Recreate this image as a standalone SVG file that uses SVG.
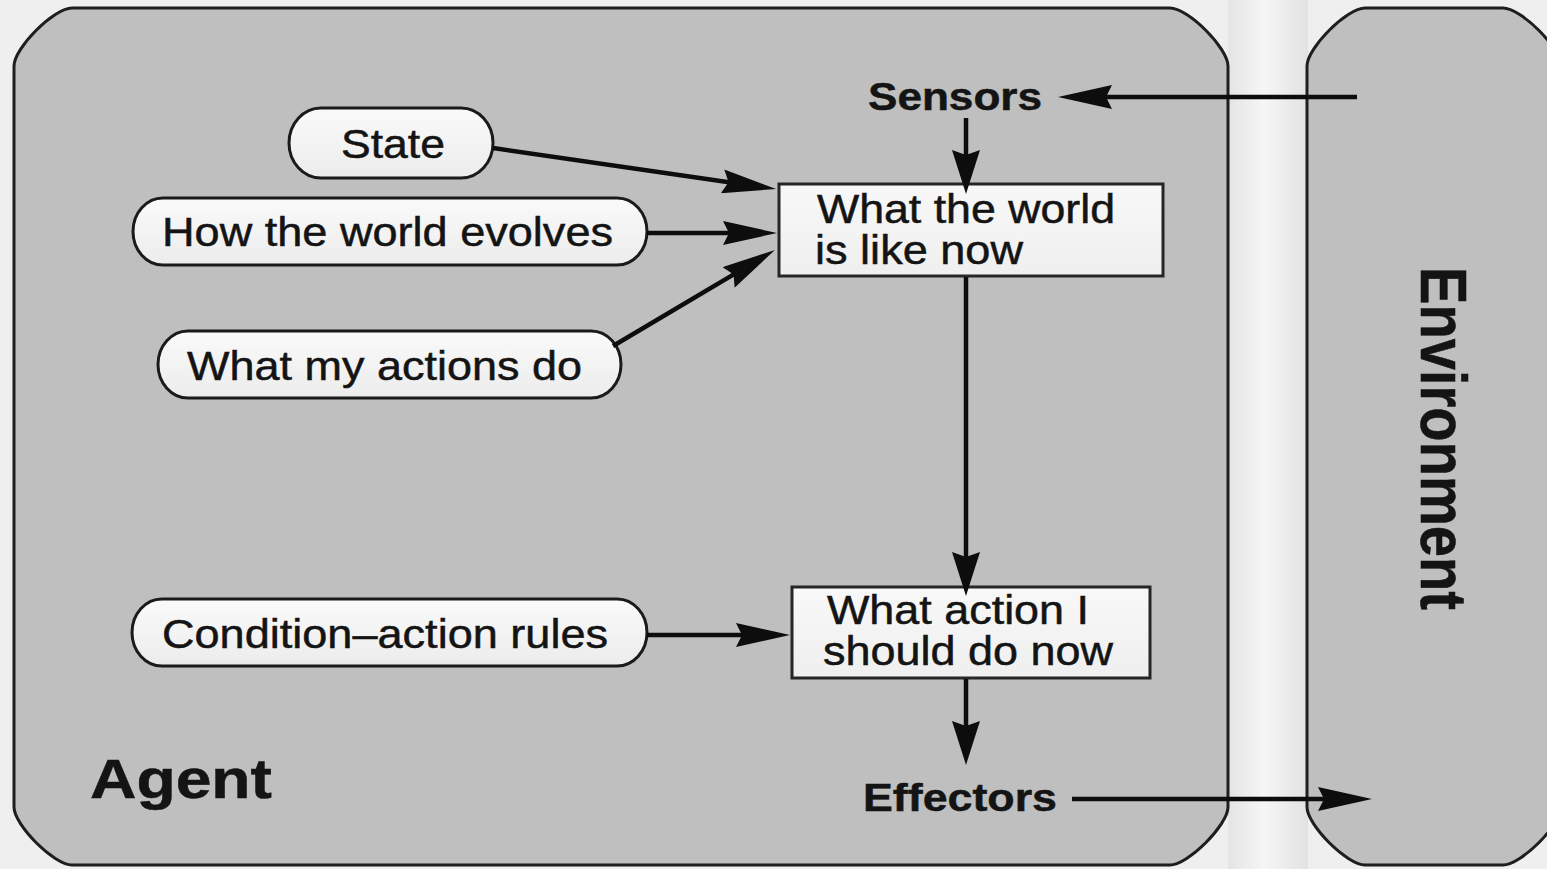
<svg xmlns="http://www.w3.org/2000/svg" width="1547" height="869" viewBox="0 0 1547 869">
  <style>
    .panel { fill: #bfbfbf; stroke: #1e1e1e; stroke-width: 3; }
    .pill { fill: url(#pillFill); stroke: #1a1a1a; stroke-width: 3; }
    .box { fill: url(#boxFill); stroke: #262626; stroke-width: 3; }
    .lbl { font-family: "Liberation Sans", Arial, sans-serif; fill: #141414; stroke: #141414; stroke-width: 0.5; }
    .reg { font-size: 40px; }
    .bold { font-weight: bold; }
    .wire { fill: none; stroke: #0d0d0d; stroke-width: 4.5; }
  </style>
  <defs>
    <linearGradient id="gapFill" x1="0" y1="0" x2="1" y2="0">
      <stop offset="0" stop-color="#e4e4e4"/>
      <stop offset="0.45" stop-color="#f6f6f6"/>
      <stop offset="1" stop-color="#e2e2e2"/>
    </linearGradient>
    <linearGradient id="pillFill" x1="0" y1="0" x2="0" y2="1">
      <stop offset="0" stop-color="#fafafa"/>
      <stop offset="1" stop-color="#ececec"/>
    </linearGradient>
    <linearGradient id="boxFill" x1="0" y1="0" x2="0" y2="1">
      <stop offset="0" stop-color="#f8f8f8"/>
      <stop offset="1" stop-color="#efefef"/>
    </linearGradient>
    <!-- arrowheads: long one for horizontal/diagonal runs, shorter wider one for vertical runs -->
    <marker id="arrowH" viewBox="0 0 54 24" refX="10" refY="12" markerWidth="54" markerHeight="24" markerUnits="userSpaceOnUse" orient="auto">
      <path d="M0,0 L54,12 L0,24 L6,12 Z" fill="#0d0d0d"/>
    </marker>
    <marker id="arrowV" viewBox="0 0 44 28" refX="10" refY="14" markerWidth="44" markerHeight="28" markerUnits="userSpaceOnUse" orient="auto">
      <path d="M0,0 L44,14 L0,28 L5,14 Z" fill="#0d0d0d"/>
    </marker>
  </defs>

  <!-- page background and the light strip between the two panels -->
  <rect x="0" y="0" width="1547" height="869" fill="#efefef"/>
  <rect x="1228" y="0" width="80" height="869" fill="url(#gapFill)"/>

  <!-- agent panel -->
  <g id="agent">
    <path class="panel" d="M14,66 C14,48 54,8 72,8 L1170,8 C1188,8 1228,48 1228,66 L1228,807 C1228,825 1188,865 1170,865 L72,865 C54,865 14,825 14,807 Z"/>
    <text class="lbl bold" x="90" y="798" font-size="56" textLength="182" lengthAdjust="spacingAndGlyphs">Agent</text>
  </g>

  <!-- environment panel -->
  <g id="environment">
    <path class="panel" d="M1307,66 C1307,48 1347,8 1365,8 L1503,8 C1521,8 1561,48 1561,66 L1561,807 C1561,825 1521,865 1503,865 L1365,865 C1347,865 1307,825 1307,807 Z"/>
    <text class="lbl bold" transform="translate(1421,267) rotate(90) scale(1,1.13)" x="0" y="0" font-size="58" textLength="343" lengthAdjust="spacingAndGlyphs">Environment</text>
  </g>

  <g id="sensors">
    <text class="lbl bold" x="868" y="110" font-size="39" textLength="174" lengthAdjust="spacingAndGlyphs">Sensors</text>
  </g>

  <g id="effectors">
    <text class="lbl bold" x="863" y="811" font-size="39" textLength="194" lengthAdjust="spacingAndGlyphs">Effectors</text>
  </g>

  <g id="state">
    <rect class="pill" x="289" y="108" width="204" height="70" rx="32" ry="35"/>
    <text class="lbl" x="341" y="158" font-size="41" textLength="104" lengthAdjust="spacingAndGlyphs">State</text>
  </g>

  <g id="world-evolves">
    <rect class="pill" x="133" y="198" width="514" height="67" rx="30" ry="33.5"/>
    <text class="lbl" x="162" y="246" font-size="41" textLength="451" lengthAdjust="spacingAndGlyphs">How the world evolves</text>
  </g>

  <g id="action-effects">
    <rect class="pill" x="158" y="331" width="463" height="67" rx="30" ry="33.5"/>
    <text class="lbl" x="187" y="380" font-size="41" textLength="395" lengthAdjust="spacingAndGlyphs">What my actions do</text>
  </g>

  <g id="rules">
    <rect class="pill" x="132" y="599" width="515" height="67" rx="30" ry="33.5"/>
    <text class="lbl" x="162" y="648" font-size="41" textLength="446" lengthAdjust="spacingAndGlyphs">Condition–action rules</text>
  </g>

  <g id="world-now">
    <rect class="box" x="779" y="184" width="384" height="92"/>
    <text class="lbl reg" x="817" y="223" textLength="298" lengthAdjust="spacingAndGlyphs">What the world</text>
    <text class="lbl reg" x="815" y="264" textLength="208" lengthAdjust="spacingAndGlyphs">is like now</text>
  </g>

  <g id="action-now">
    <rect class="box" x="792" y="587" width="358" height="91"/>
    <text class="lbl reg" x="827" y="624" textLength="262" lengthAdjust="spacingAndGlyphs">What action I</text>
    <text class="lbl reg" x="823" y="665" textLength="290" lengthAdjust="spacingAndGlyphs">should do now</text>
  </g>

  <!-- connectors -->
  <g id="connectors">
    <path class="wire" d="M1357,97 H1102" marker-end="url(#arrowH)"/>
    <path class="wire" d="M966,118 V160" marker-end="url(#arrowV)"/>
    <path class="wire" d="M966,277 V562" marker-end="url(#arrowV)"/>
    <path class="wire" d="M966,679 V731" marker-end="url(#arrowV)"/>
    <path class="wire" d="M1072,799 H1328" marker-end="url(#arrowH)"/>
    <path class="wire" d="M493,148 L732.5,182.7" marker-end="url(#arrowH)"/>
    <path class="wire" d="M647,233 H733" marker-end="url(#arrowH)"/>
    <path class="wire" d="M613,346 L737.1,272.4" marker-end="url(#arrowH)"/>
    <path class="wire" d="M647,635 H746" marker-end="url(#arrowH)"/>
  </g>
</svg>
